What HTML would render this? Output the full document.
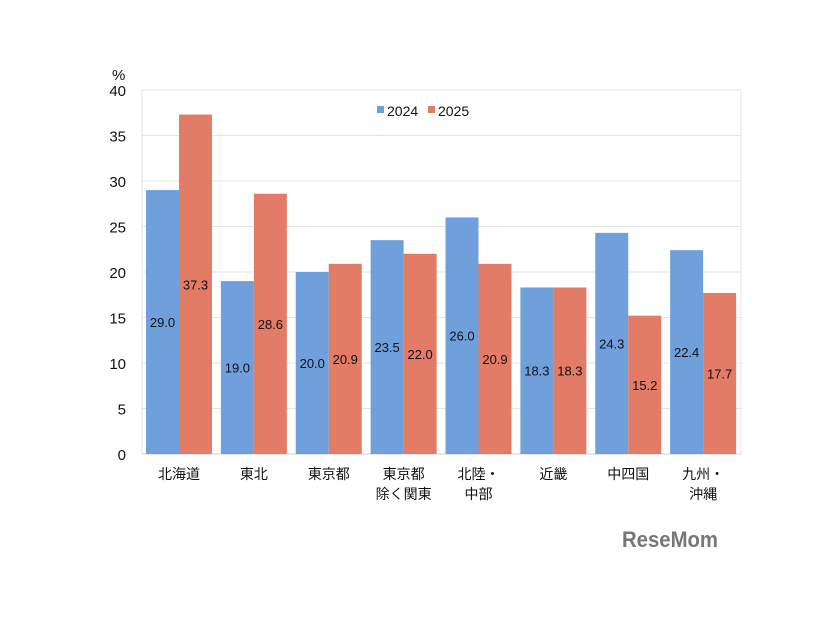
<!DOCTYPE html>
<html><head><meta charset="utf-8"><style>
body{margin:0;background:#fff;}
svg text{font-family:"Liberation Sans","Noto Sans CJK JP",sans-serif;}
</style></head><body>
<svg id="chart" width="826" height="620"></svg>
<script>
const categories=[["北海道"],["東北"],["東京都"],["東京都","除く関東"],["北陸・","中部"],["近畿"],["中四国"],["九州・","沖縄"]];
const values2024=[29.0,19.0,20.0,23.5,26.0,18.3,24.3,22.4];
const values2025=[37.3,28.6,20.9,22.0,20.9,18.3,15.2,17.7];
const yTicks=[0,5,10,15,20,25,30,35,40];
const seriesNames=["2024","2025"];
const colors=["#6fa0dc","#e27c67"];
const L=142,R=741,T=90,B=454,yMax=40;
const svg=document.getElementById('chart');
const NS="http://www.w3.org/2000/svg";
function y(v){return B-(v/yMax)*(B-T);}
const bw=(R-L)/categories.length;
function x(i){return L+i*bw;}
function mk(tag,attrs,txt){const e=document.createElementNS(NS,tag);for(const k in attrs)e.setAttribute(k,attrs[k]);if(txt!==undefined)e.textContent=txt;svg.appendChild(e);return e;}
let e;
e=mk('rect',{x:L,y:T,width:R-L,height:B-T,fill:'#fff',stroke:'#e4e4e4'});


yTicks.forEach(t=>{
 e=mk('line',{x1:L,x2:R,y1:y(t),y2:y(t),stroke:t===0?'#cfcfcf':'#e4e4e4'});
 
 
 e=mk('text',{x:L-16,y:y(t)+6,'text-anchor':'end','font-size':15,fill:'#111'},String(t));
 
 
});
e=mk('text',{x:112,y:80,'font-size':15,fill:'#111'},'%');


const barW=33,pad=4;
[values2024,values2025].forEach((vals,s)=>{
 vals.forEach((v,i)=>{
  const bx=x(i)+pad+s*barW;
  e=mk('rect',{x:bx,y:y(v),width:barW,height:B-y(v),fill:colors[s]});
  
  
  e=mk('text',{x:bx+barW/2,y:(y(v)+B)/2+5,'text-anchor':'middle','font-size':13,fill:'#111'},v.toFixed(1));
  
  
 });
});
categories.forEach((c,i)=>{
 c.forEach((line,j)=>{
  e=mk('text',{x:x(i)+pad+barW,y:479+j*20,'text-anchor':'middle','font-size':14,fill:'#111'},line);
  
  
 });
});
seriesNames.forEach((n,s)=>{
 const lx=377+s*51;
 e=mk('rect',{x:lx,y:106,width:7,height:7,fill:colors[s]});
 
 
 e=mk('text',{x:lx+10,y:116,'font-size':14,fill:'#111'},n);
 
 
});
e=mk('text',{x:622,y:547,'font-size':22,'font-weight':'bold',fill:'#777',textLength:96,lengthAdjust:'spacingAndGlyphs'},'ReseMom');


</script>
</body></html>
